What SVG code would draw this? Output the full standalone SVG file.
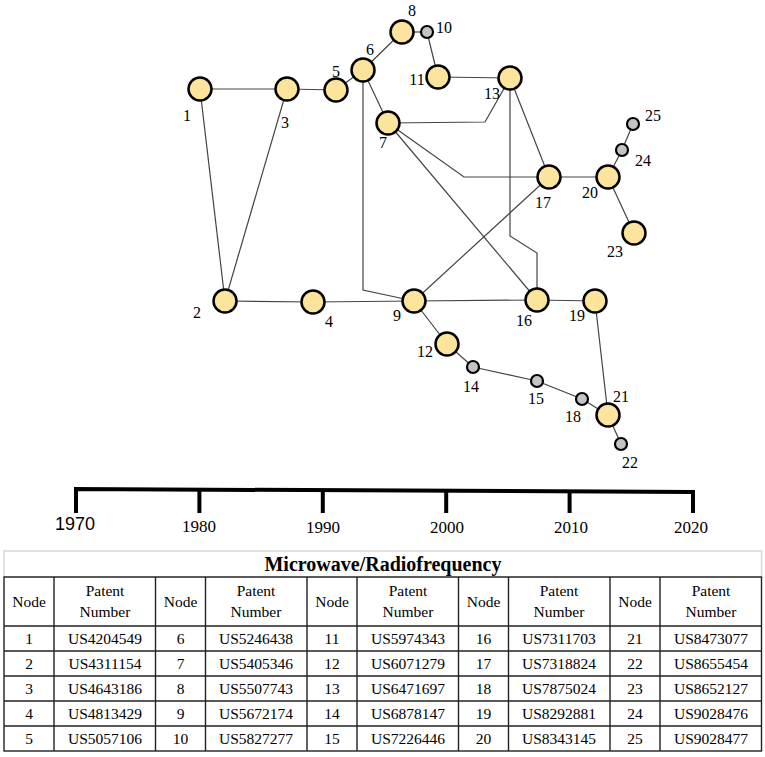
<svg xmlns="http://www.w3.org/2000/svg" width="765" height="757" viewBox="0 0 765 757">
<style>
.e{fill:none;stroke:#444;stroke-width:1.2}
.big{fill:#FDE49C;stroke:#000;stroke-width:2.5}
.sm{fill:#C4C4C4;stroke:#000;stroke-width:2.2}
.lb{font-family:'Liberation Serif',serif;font-size:16px;fill:#000;text-anchor:middle}
.tl{stroke:#000;stroke-width:4;fill:none}
.yr{font-family:'Liberation Serif',serif;font-size:17px;text-anchor:middle}
.grid{stroke:#222;stroke-width:1.4;fill:none}
.tc{font-family:'Liberation Serif',serif;font-size:15.5px;text-anchor:middle}
</style>
<rect width="765" height="757" fill="#fff"/>
<g id="connectors">
<line class="e" x1="200" y1="89" x2="287" y2="89"/>
<line class="e" x1="200" y1="89" x2="225" y2="301"/>
<line class="e" x1="287" y1="89" x2="225" y2="301"/>
<line class="e" x1="287" y1="89" x2="336" y2="90"/>
<line class="e" x1="336" y1="90" x2="363" y2="70"/>
<line class="e" x1="363" y1="70" x2="402" y2="32"/>
<line class="e" x1="402" y1="32" x2="427" y2="32"/>
<line class="e" x1="427" y1="32" x2="438" y2="77"/>
<line class="e" x1="438" y1="77" x2="510" y2="78"/>
<line class="e" x1="363" y1="70" x2="388" y2="123"/>
<polyline class="e" points="363,70 363,290 414,301"/>
<polyline class="e" points="388,123 485,122 510,78"/>
<polyline class="e" points="388,123 464,177 549,177"/>
<line class="e" x1="388" y1="123" x2="537" y2="300"/>
<line class="e" x1="510" y1="78" x2="549" y2="177"/>
<polyline class="e" points="510,78 510,236 537,253 537,300"/>
<line class="e" x1="549" y1="177" x2="414" y2="301"/>
<line class="e" x1="549" y1="177" x2="608" y2="177"/>
<line class="e" x1="608" y1="177" x2="622" y2="150"/>
<line class="e" x1="622" y1="150" x2="633" y2="124"/>
<line class="e" x1="608" y1="177" x2="634" y2="233"/>
<line class="e" x1="225" y1="301" x2="313" y2="302"/>
<line class="e" x1="313" y1="302" x2="414" y2="301"/>
<line class="e" x1="414" y1="301" x2="537" y2="300"/>
<line class="e" x1="537" y1="300" x2="595" y2="301"/>
<line class="e" x1="595" y1="301" x2="608" y2="415"/>
<line class="e" x1="414" y1="301" x2="447" y2="344"/>
<line class="e" x1="447" y1="344" x2="473" y2="367"/>
<line class="e" x1="473" y1="367" x2="537" y2="381"/>
<line class="e" x1="537" y1="381" x2="582" y2="399"/>
<line class="e" x1="582" y1="399" x2="608" y2="415"/>
<line class="e" x1="608" y1="415" x2="621" y2="444"/>
</g>
<g id="n1"><circle class="big" cx="200" cy="89" r="11.5"/><text class="lb" x="187" y="120.5">1</text></g>
<g id="n2"><circle class="big" cx="225" cy="301" r="11.5"/><text class="lb" x="197" y="317.5">2</text></g>
<g id="n3"><circle class="big" cx="287" cy="89" r="11.5"/><text class="lb" x="285" y="127.5">3</text></g>
<g id="n4"><circle class="big" cx="313" cy="302" r="11.5"/><text class="lb" x="329" y="326.5">4</text></g>
<g id="n5"><circle class="big" cx="336" cy="90" r="11.5"/><text class="lb" x="336" y="76.5">5</text></g>
<g id="n6"><circle class="big" cx="363" cy="70" r="11.5"/><text class="lb" x="370" y="54.5">6</text></g>
<g id="n7"><circle class="big" cx="388" cy="123" r="11.5"/><text class="lb" x="383" y="147.5">7</text></g>
<g id="n8"><circle class="big" cx="402" cy="32" r="11.5"/><text class="lb" x="412" y="15.5">8</text></g>
<g id="n9"><circle class="big" cx="414" cy="301" r="11.5"/><text class="lb" x="397" y="320.5">9</text></g>
<g id="n10"><circle class="sm" cx="427" cy="32" r="6"/><text class="lb" x="444" y="32.5">10</text></g>
<g id="n11"><circle class="big" cx="438" cy="77" r="11.5"/><text class="lb" x="417" y="84.5">11</text></g>
<g id="n12"><circle class="big" cx="447" cy="344" r="11.5"/><text class="lb" x="425" y="356.5">12</text></g>
<g id="n13"><circle class="big" cx="510" cy="78" r="11.5"/><text class="lb" x="492" y="98.5">13</text></g>
<g id="n14"><circle class="sm" cx="473" cy="367" r="6"/><text class="lb" x="471" y="391.5">14</text></g>
<g id="n15"><circle class="sm" cx="537" cy="381" r="6"/><text class="lb" x="536" y="403.5">15</text></g>
<g id="n16"><circle class="big" cx="537" cy="300" r="11.5"/><text class="lb" x="524" y="325.5">16</text></g>
<g id="n17"><circle class="big" cx="549" cy="177" r="11.5"/><text class="lb" x="543" y="207.5">17</text></g>
<g id="n18"><circle class="sm" cx="582" cy="399" r="6"/><text class="lb" x="573" y="421.5">18</text></g>
<g id="n19"><circle class="big" cx="595" cy="301" r="11.5"/><text class="lb" x="577" y="320.5">19</text></g>
<g id="n20"><circle class="big" cx="608" cy="177" r="11.5"/><text class="lb" x="590" y="197.5">20</text></g>
<g id="n21"><circle class="big" cx="608" cy="415" r="11.5"/><text class="lb" x="621" y="401.5">21</text></g>
<g id="n22"><circle class="sm" cx="621" cy="444" r="6"/><text class="lb" x="630" y="467.5">22</text></g>
<g id="n23"><circle class="big" cx="634" cy="233" r="11.5"/><text class="lb" x="615" y="256.5">23</text></g>
<g id="n24"><circle class="sm" cx="622" cy="150" r="6"/><text class="lb" x="643" y="165.5">24</text></g>
<g id="n25"><circle class="sm" cx="633" cy="124" r="6"/><text class="lb" x="653" y="120.5">25</text></g>
<g id="timeline">
<polyline class="tl" points="76,513 76,489 693,492 693,513"/>
<line class="tl" x1="199.4" y1="490" x2="199.4" y2="513"/>
<line class="tl" x1="322.8" y1="490" x2="322.8" y2="513"/>
<line class="tl" x1="446.2" y1="491" x2="446.2" y2="513"/>
<line class="tl" x1="569.6" y1="491" x2="569.6" y2="513"/>
<text x="75" y="530" style="font-family:'Liberation Sans',Arial,sans-serif;font-size:18px;text-anchor:middle">1970</text>
<text class="yr" x="199" y="532">1980</text>
<text class="yr" x="323" y="533">1990</text>
<text class="yr" x="447" y="533">2000</text>
<text class="yr" x="571" y="533">2010</text>
<text class="yr" x="691" y="533">2020</text>
</g>
<g id="table">
<rect x="4" y="551" width="757.5" height="26" fill="#fff" stroke="#d8d8d8" stroke-width="1.5"/>
<text x="383" y="571" style="font-family:'Liberation Serif','Times New Roman',serif;font-size:20px;font-weight:bold;text-anchor:middle">Microwave/Radiofrequency</text>
<rect class="grid" x="4" y="577" width="757.5" height="174" stroke-width="2"/>
<path class="grid" d="M4,626H761.5M4,651H761.5M4,676H761.5M4,701H761.5M4,726H761.5M54,577V751M155.5,577V751M205.5,577V751M307,577V751M357,577V751M458.5,577V751M508.5,577V751M610,577V751M660,577V751"/>
<g class="tc">
<text x="29" y="606.5">Node</text><text x="105" y="596">Patent</text><text x="105" y="617">Number</text>
<text x="180.5" y="606.5">Node</text><text x="256" y="596">Patent</text><text x="256" y="617">Number</text>
<text x="332" y="606.5">Node</text><text x="408" y="596">Patent</text><text x="408" y="617">Number</text>
<text x="483.5" y="606.5">Node</text><text x="559" y="596">Patent</text><text x="559" y="617">Number</text>
<text x="635" y="606.5">Node</text><text x="711" y="596">Patent</text><text x="711" y="617">Number</text>
<text x="29" y="644">1</text><text x="105" y="644">US4204549</text><text x="180.5" y="644">6</text><text x="256" y="644">US5246438</text><text x="332" y="644">11</text><text x="408" y="644">US5974343</text><text x="483.5" y="644">16</text><text x="559" y="644">US7311703</text><text x="635" y="644">21</text><text x="711" y="644">US8473077</text>
<text x="29" y="669">2</text><text x="105" y="669">US4311154</text><text x="180.5" y="669">7</text><text x="256" y="669">US5405346</text><text x="332" y="669">12</text><text x="408" y="669">US6071279</text><text x="483.5" y="669">17</text><text x="559" y="669">US7318824</text><text x="635" y="669">22</text><text x="711" y="669">US8655454</text>
<text x="29" y="694">3</text><text x="105" y="694">US4643186</text><text x="180.5" y="694">8</text><text x="256" y="694">US5507743</text><text x="332" y="694">13</text><text x="408" y="694">US6471697</text><text x="483.5" y="694">18</text><text x="559" y="694">US7875024</text><text x="635" y="694">23</text><text x="711" y="694">US8652127</text>
<text x="29" y="719">4</text><text x="105" y="719">US4813429</text><text x="180.5" y="719">9</text><text x="256" y="719">US5672174</text><text x="332" y="719">14</text><text x="408" y="719">US6878147</text><text x="483.5" y="719">19</text><text x="559" y="719">US8292881</text><text x="635" y="719">24</text><text x="711" y="719">US9028476</text>
<text x="29" y="744">5</text><text x="105" y="744">US5057106</text><text x="180.5" y="744">10</text><text x="256" y="744">US5827277</text><text x="332" y="744">15</text><text x="408" y="744">US7226446</text><text x="483.5" y="744">20</text><text x="559" y="744">US8343145</text><text x="635" y="744">25</text><text x="711" y="744">US9028477</text>
</g>
</g>
</svg>
